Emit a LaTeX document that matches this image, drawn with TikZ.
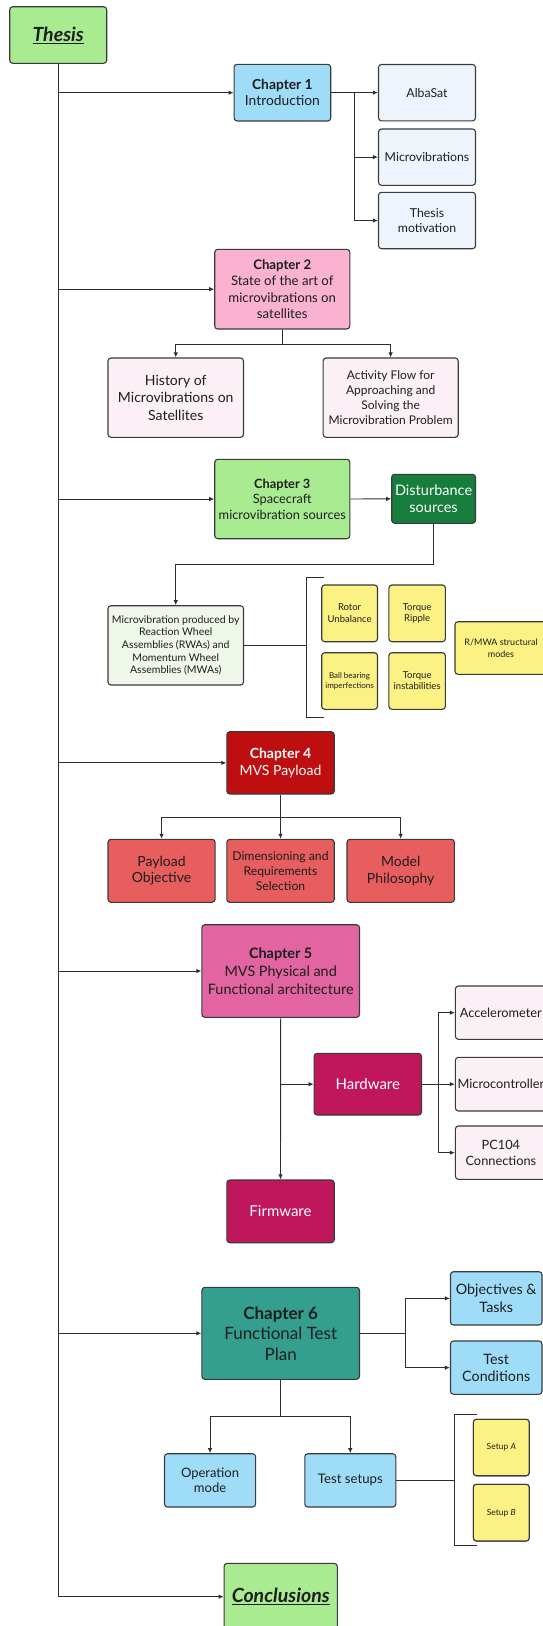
\documentclass[tikz,border=0pt]{standalone}
\usepackage{fontspec}
\setmainfont{Lato}
\usetikzlibrary{arrows.meta}

% palette
\definecolor{ink}{HTML}{1E1E1E}
\definecolor{edgegrey}{HTML}{3A3A3A}
\definecolor{linegrey}{HTML}{2E2E2E}
\definecolor{lime}{HTML}{A8EB91}
\definecolor{sky}{HTML}{9FDCF8}
\definecolor{paleblue}{HTML}{EEF4FC}
\definecolor{rose}{HTML}{F9B2D0}
\definecolor{palepink}{HTML}{FBF0F5}
\definecolor{forest}{HTML}{177D3C}
\definecolor{palegreen}{HTML}{EFF7EA}
\definecolor{lemon}{HTML}{FCF183}
\definecolor{crimson}{HTML}{BF0E10}
\definecolor{salmon}{HTML}{E85D5E}
\definecolor{orchid}{HTML}{E264A0}
\definecolor{berry}{HTML}{C0175C}
\definecolor{teal6}{HTML}{349E8F}

\newcommand\fsz[2]{\fontsize{#1}{#2}\selectfont}

\tikzset{
  box/.style={draw=edgegrey, line width=1.1pt, rounded corners=3pt,
              inner sep=1pt, align=center, text=ink},
  arr/.style={-{Latex[length=5pt,width=4.5pt]}, line width=0.9pt, draw=linegrey},
  link/.style={line width=0.9pt, draw=linegrey},
}

\begin{document}
\begin{tikzpicture}[x=1pt, y=-1pt]
\useasboundingbox (0,0) rectangle (543,1626);

% ---- root and conclusions
\node[box, fill=lime, minimum width=97pt, minimum height=56.6pt, font=\fsz{19.5}{22}]
  (thesis) at (58.2,35) {\underline{\textbf{\textit{Thesis}}}};
\node[box, fill=lime, minimum width=113.2pt, minimum height=66.7pt, font=\fsz{19.5}{22}]
  (conc) at (280.7,1596.7) {\underline{\textbf{\textit{Conclusions}}}};

% ---- chapter 1
\node[box, fill=sky, minimum width=96.6pt, minimum height=56.7pt, font=\fsz{13.8}{16.5}]
  (ch1) at (282.4,92.65) {\textbf{Chapter 1}\\Introduction};
\node[box, fill=paleblue, minimum width=97pt, minimum height=56.4pt, font=\fsz{12.3}{15}]
  (alba) at (427,92.65) {AlbaSat};
\node[box, fill=paleblue, minimum width=97pt, minimum height=56.3pt, font=\fsz{12.3}{15}]
  (mvibs) at (427,157.15) {Microvibrations};
\node[box, fill=paleblue, minimum width=97pt, minimum height=56.4pt, font=\fsz{12.3}{15.5}]
  (motiv) at (427,220.5) {Thesis\\motivation};

% ---- chapter 2
\node[box, fill=rose, minimum width=135.1pt, minimum height=79.7pt, font=\fsz{13.2}{16.3}]
  (ch2) at (282.25,289.15) {\textbf{Chapter 2}\\State of the art of\\microvibrations on\\satellites};
\node[box, fill=palepink, minimum width=135.5pt, minimum height=79.3pt, font=\fsz{14}{17.5}]
  (hist) at (175.75,397.65) {History of\\Microvibrations on\\Satellites};
\node[box, fill=palepink, minimum width=135.1pt, minimum height=79.3pt, font=\fsz{12}{15.2}]
  (flow) at (390.65,397.65) {Activity Flow for\\Approaching and\\Solving the\\Microvibration Problem};

% ---- chapter 3
\node[box, fill=lime, minimum width=135.1pt, minimum height=79.4pt, font=\fsz{12.8}{15.6}]
  (ch3) at (282.25,499) {\textbf{Chapter 3}\\Spacecraft\\microvibration sources};
\node[box, fill=forest, text=white, minimum width=83.8pt, minimum height=49pt, font=\fsz{14.5}{17.3}]
  (dist) at (433.6,498.8) {Disturbance\\sources};
\node[box, fill=palegreen, minimum width=135.5pt, minimum height=79.3pt, font=\fsz{10.5}{12.7}]
  (rwa) at (175.75,645.35) {Microvibration produced by\\Reaction Wheel\\Assemblies (RWAs) and\\Momentum Wheel\\Assemblies (MWAs)};
\node[box, fill=lemon, minimum width=55.8pt, minimum height=56.7pt, font=\fsz{9.5}{11.5}]
  (rotor) at (349.6,613.35) {Rotor\\Unbalance};
\node[box, fill=lemon, minimum width=56.5pt, minimum height=56.7pt, font=\fsz{9.5}{11.5}]
  (ripple) at (417.15,613.35) {Torque\\Ripple};
\node[box, fill=lemon, minimum width=55.8pt, minimum height=56.6pt, font=\fsz{8}{10}]
  (bearing) at (349.6,681) {Ball bearing\\imperfections};
\node[box, fill=lemon, minimum width=56.5pt, minimum height=56.6pt, font=\fsz{9.5}{11}]
  (instab) at (417.15,681) {Torque\\instabilities};
\node[box, fill=lemon, minimum width=92pt, minimum height=52.6pt, font=\fsz{9}{11.5}]
  (modes) at (501,648) {R/MWA structural\\modes};

% ---- chapter 4
\node[box, fill=crimson, text=white, minimum width=107.4pt, minimum height=62.3pt, font=\fsz{14}{16.5}]
  (ch4) at (280.5,762.85) {\textbf{Chapter 4}\\MVS Payload};
\node[box, fill=salmon, minimum width=107.1pt, minimum height=63pt, font=\fsz{14}{16.5}]
  (payobj) at (161.55,870.8) {Payload\\Objective};
\node[box, fill=salmon, minimum width=107.4pt, minimum height=63pt, font=\fsz{12.2}{15}]
  (dimen) at (280.5,870.8) {Dimensioning and\\Requirements\\Selection};
\node[box, fill=salmon, minimum width=107.4pt, minimum height=63pt, font=\fsz{14}{16.5}]
  (model) at (400.7,870.8) {Model\\Philosophy};

% ---- chapter 5
\node[box, fill=orchid, minimum width=157.6pt, minimum height=92.6pt, font=\fsz{14.4}{17.7}]
  (ch5) at (280.7,971) {\textbf{Chapter 5}\\MVS Physical and\\Functional architecture};
\node[box, fill=berry, text=white, minimum width=107.4pt, minimum height=61.7pt, font=\fsz{15}{17}]
  (hw) at (367.8,1084.15) {Hardware};
\node[box, fill=berry, text=white, minimum width=107.4pt, minimum height=62.7pt, font=\fsz{15}{17}]
  (fw) at (280.5,1211.35) {Firmware};
\node[box, fill=palepink, minimum width=91pt, minimum height=53.3pt, font=\fsz{12.8}{15.5}]
  (accel) at (500.9,1012.65) {Accelerometer};
\node[box, fill=palepink, minimum width=91pt, minimum height=53.7pt, font=\fsz{12.8}{15.5}]
  (mcu) at (500.9,1084.15) {Microcontroller};
\node[box, fill=palepink, minimum width=91pt, minimum height=53.3pt, font=\fsz{12.8}{15.5}]
  (pc104) at (500.9,1152.65) {PC104\\Connections};

% ---- chapter 6
\node[box, fill=teal6, minimum width=157.6pt, minimum height=92pt, font=\fsz{17}{20.5}]
  (ch6) at (280.7,1333.3) {\textbf{Chapter 6}\\Functional Test\\Plan};
\node[box, fill=sky, minimum width=91.5pt, minimum height=53.3pt, font=\fsz{14.3}{17.3}]
  (tasks) at (496.25,1298.35) {Objectives \&\\Tasks};
\node[box, fill=sky, minimum width=91.5pt, minimum height=53.3pt, font=\fsz{14.3}{17.3}]
  (cond) at (496.25,1367.65) {Test\\Conditions};
\node[box, fill=sky, minimum width=91.1pt, minimum height=53.3pt, font=\fsz{13}{15.5}]
  (opmode) at (210.05,1480.35) {Operation\\mode};
\node[box, fill=sky, minimum width=91pt, minimum height=53.3pt, font=\fsz{13.2}{15.5}]
  (setups) at (350.3,1480.35) {Test setups};
\node[box, fill=lemon, minimum width=55.8pt, minimum height=56.4pt, font=\fsz{8.5}{10}]
  (setA) at (501.3,1447.5) {Setup \textit{A}};
\node[box, fill=lemon, minimum width=55.8pt, minimum height=56.7pt, font=\fsz{8.5}{10}]
  (setB) at (501.3,1512.65) {Setup \textit{B}};

% ---- trunk with one arrow per chapter
\draw[link] (thesis.south) -- (thesis.south |- conc.west);
\foreach \c in {ch1,ch2,ch3,ch4,ch5,ch6,conc}
  \draw[arr] (thesis.south |- \c.west) -- (\c.west);

% ---- chapter 1 branches
\coordinate (j1) at (354.3,92.65);
\draw[arr] (ch1.east) -- (alba.west);
\draw[arr] (j1) |- (mvibs.west);
\draw[arr] (j1) |- (motiv.west);

% ---- chapter 2 branches
\draw[arr] (ch2.south) -- ++(0,14.7) -| (hist.north);
\draw[arr] (ch2.south) -- ++(0,14.7) -| (flow.north);

% ---- chapter 3 branches
\draw[arr] (ch3.east) -- (dist.west);
\draw[arr] (dist.south) -- ++(0,41) -| (rwa.north);
\coordinate (brA) at (323.8,577.7);
\coordinate (brB) at (323.8,717.7);
\coordinate (brSpine) at (306.8,645.35);
\draw[link] (brA) -- (brA -| brSpine) -- (brB -| brSpine) -- (brB);
\draw[link] (rwa.east) -- (brSpine);

% ---- chapter 4 branches
\draw[arr] (ch4.south) -- (dimen.north);
\draw[arr] (ch4.south) -- ++(0,22.7) -| (payobj.north);
\draw[arr] (ch4.south) -- ++(0,22.7) -| (model.north);

% ---- chapter 5 branches
\draw[arr] (ch5.south) -- (fw.north);
\draw[arr] (ch5.south |- hw.west) -- (hw.west);
\coordinate (j5) at (438.4,1084.15);
\draw[arr] (hw.east) -- (mcu.west);
\draw[arr] (j5) |- (accel.west);
\draw[arr] (j5) |- (pc104.west);

% ---- chapter 6 branches
\coordinate (j6) at (405.2,1333.3);
\draw[link] (ch6.east) -- (j6);
\draw[arr] (j6) |- (tasks.west);
\draw[arr] (j6) |- (cond.west);
\draw[arr] (ch6.south) -- ++(0,37) -| (opmode.north);
\draw[arr] (ch6.south) -- ++(0,37) -| (setups.north);
\coordinate (bsA) at (476.5,1414.3);
\coordinate (bsB) at (476.5,1545.7);
\coordinate (bsSpine) at (454.4,1480.35);
\draw[link] (bsA) -- (bsA -| bsSpine) -- (bsB -| bsSpine) -- (bsB);
\draw[link] (setups.east) -- (bsSpine);

% keep the setup cards above the bracket ticks
\node[box, fill=lemon, minimum width=55.8pt, minimum height=56.4pt, font=\fsz{8.5}{10}]
  at (setA) {Setup \textit{A}};
\node[box, fill=lemon, minimum width=55.8pt, minimum height=56.7pt, font=\fsz{8.5}{10}]
  at (setB) {Setup \textit{B}};
\end{tikzpicture}
\end{document}
